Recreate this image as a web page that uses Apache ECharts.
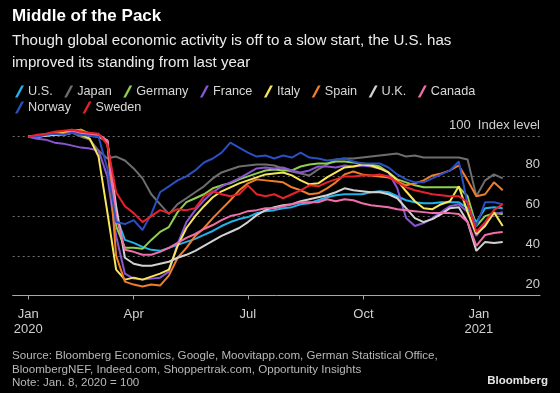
<!DOCTYPE html>
<html>
<head>
<meta charset="utf-8">
<script src="https://cdn.jsdelivr.net/npm/echarts@6/dist/echarts.min.js"></script>
<style>
html,body{margin:0;padding:0;background:#000;}
#chart{width:560px;height:393px;}
</style>
</head>
<body>
<div id="chart"></div>
<script>
// Days since Jan 1, 2020 (weekly samples starting Jan 8, 2020)
const days = [7,14,21,28,35,42,49,56,63,70,77,84,91,98,105,112,119,126,133,140,147,154,161,168,175,182,189,196,203,210,217,224,231,238,245,252,259,266,273,280,287,294,301,308,315,322,329,336,343,350,357,364,371,378,385];

const usValues = [100,100,100.5,101,101,102,102,101,100.5,98, 60,48,46.5,44.5,43,42.5,44,45.5,47,48.5, 50.5,52.5,55,57,58.5,59.5,61.5,62.5,63,64, 64.5,66,66.5,68,69.5,70.5,71,71,71,72, 72.5,72,70,68,67,66.5,66.5,67,67,67, 64,57,64,64.5,64];
const japanValues = [100,100.5,101,101.5,101,102,100,98.5,93,89, 90,88,84,79,71,66,61,66,69,72, 75,79,82,83.5,85,85.5,86,86,85.5,84, 82.5,81.5,80.5,83.5,86,88.5,89,89,89.5,90, 90.5,91,91.5,90,90.5,89.5,89.5,89.5,89.5,89.5, 88.5,70,78,81,79];
const germanyValues = [100,100,101,101.5,102,103,103.5,101.5,101,97, 55,44,44,43.5,48,52,54.5,62,67,69, 71,74,75.5,76.5,78.5,80,81.5,83,83.5,83, 83,85,86,86.5,86.5,87.5,87.5,87,86.5,86, 85,82,78.5,77,75.5,74.5,74.5,74.5,74.5,74.5, 70,55,60,61.5,61];
const franceValues = [100,99,98.5,97,96.5,95.5,94.5,94,93,80, 50,31,28.5,28,28.5,29,32,46,57,63, 68,72,75,77,79,81.5,84,84.5,84,84.5, 83,82,83,85,85,84.5,85.5,85,85.5,85, 84,82,74,59,55,56.5,59,62,65,66, 62,50,56,61,62];
const italyValues = [100,100.5,101,101.5,102,103.5,101,99,90,62, 33,28,29,28,29.5,31,33,45,54,60, 65,69.5,72.5,74.5,76.5,78,79.5,81,81.5,82, 80.5,78,76,76.5,79.5,82,84.5,85,86,85.5, 84,82,78,72.5,67.5,64,63.5,66,67.5,75, 62,51,55,62,55];
const spainValues = [100,100.5,101,102,101.5,102.5,103.5,101,101,98, 40,27,25.5,24.5,25.5,25,30,39,44,50, 54,59,63.5,68,73,76.5,78.5,78,77.5,77, 74.5,73,71,71.5,74,77,81,82.5,81,80.5, 80,79.5,77.5,75.5,76.5,78,80.5,81.5,83,85.5, 78,70,71,77,73];
const ukValues = [100,100,100.5,101,101,102,101.5,100.5,100,97.5, 65,39,36,35,35,36,37,39,40.5,42.5, 45,47.5,50,52,54,57,60.5,63,64.5,65.5, 66,67.5,68.5,69.5,70.5,72,74,73,72.5,72, 72,71,69,64,59,57,58.5,61,64,64.5, 57,42.5,47,46.5,47];
const canadaValues = [100,100.5,101,101.5,101,102.5,102,101,101,98, 60,43,42,40.5,40.5,42,44,46.5,49,51, 53.5,55.5,58,60,61,62.5,63,64,64,65, 66,67,67,67,68.5,67.5,68.5,68,66.5,65.5, 65,64.5,63.5,63,62.5,62,61.5,61.5,61.5,61, 57,45,50.5,51.5,52];
const norwayValues = [100,100,101,101.5,101,102,101,100.5,100,84, 57,56,58,53,61,72,75,78,80,83, 87,89,92,97,94.5,92,90,90.5,89,90.5, 89.5,92,89.5,89,88,88.5,89,87.5,86.5,86.5, 86.5,84.5,81,78.5,77,77,79,81,83,87.5, 66,55,67,67,66];
const swedenValues = [100,101,101.5,102.5,103,103.5,102.5,102,101.5,96, 72,65,61.5,57,60,63,61.5,63.5,63,64, 70,72.5,71,70,71,75.5,71,70,71,69, 71,73,75.5,75,77,78.5,80,80,80.5,80.5, 81,80,77,74.5,73,72,71,70.5,70,70, 67,52,57,63,66];

const countries = ['U.S.','Japan','Germany','France','Italy','Spain','U.K.','Canada','Norway','Sweden'];
const colors = ['#22b3ea','#6e6e6e','#8fd14f','#8a55d2','#f7e65a','#f07d28','#d2d2d2','#f06ea9','#2a4fc0','#e8222c'];
const seriesValues = [usValues,japanValues,germanyValues,franceValues,italyValues,spainValues,ukValues,canadaValues,norwayValues,swedenValues];

const xTickDays = [7,91,182,274,366];
const xTickLabels = ['Jan\n2020','Apr','Jul','Oct','Jan\n2021'];
const yTicks = [20,40,60,80,100];

const FONT = "'Liberation Sans',Arial,sans-serif";
const slash = 'path://M0,12 L2.6,12 L9,0 L6.4,0 Z';

const chart = echarts.init(document.getElementById('chart'), null, {renderer:'canvas'});
chart.setOption({
  backgroundColor:'#000',
  animation:false,
  textStyle:{fontFamily:FONT},
  grid:{left:12.7, right:20, top:136.7, bottom:97.5, outerBoundsMode:'none'},
  legend:[
    {data:countries.slice(0,8), left:10, top:80, itemWidth:9, itemHeight:12, itemGap:11.5, icon:slash,
     textStyle:{color:'#d8d8d8', fontSize:12.7, fontFamily:FONT, padding:[0,0,0,-1]}},
    {data:countries.slice(8), left:10, top:96, itemWidth:9, itemHeight:12, itemGap:11.5, icon:slash,
     textStyle:{color:'#d8d8d8', fontSize:12.7, fontFamily:FONT, padding:[0,0,0,-1]}}
  ],
  xAxis:{
    type:'value', min:-5.4, max:414.7,
    axisLine:{show:true, lineStyle:{color:'#a8a8a8', width:1}},
    axisTick:{show:true, customValues:xTickDays, length:4, lineStyle:{color:'#a8a8a8'}},
    axisLabel:{customValues:xTickDays, margin:12, color:'#d0d0d0', fontSize:13, lineHeight:14.5, fontFamily:FONT,
      formatter:function(v){const i=xTickDays.indexOf(v); return i>=0?xTickLabels[i]:'';}},
    splitLine:{show:false}
  },
  yAxis:{
    type:'value', position:'right', min:20, max:100, interval:20,
    axisLine:{show:false}, axisTick:{show:false},
    axisLabel:{inside:true, margin:0, color:'#d0d0d0', fontSize:13, fontFamily:FONT, verticalAlign:'bottom', padding:[0,0,5,0],
      formatter:function(v){return v===100?'100  Index level':String(v);}},
    splitLine:{show:true, lineStyle:{color:'#707070', type:[2,3], width:1}}
  },
  graphic:[
    {type:'text', left:12, top:8, style:{text:'Middle of the Pack', fill:'#ffffff', font:"bold 17px 'Liberation Sans',sans-serif"}},
    {type:'text', left:12, top:30.5, style:{text:'Though global economic activity is off to a slow start, the U.S. has\nimproved its standing from last year', fill:'#ececec', fontSize:15.1, lineHeight:21.5, fontFamily:FONT}},
    {type:'text', left:12, top:349, style:{text:'Source: Bloomberg Economics, Google, Moovitapp.com, German Statistical Office,\nBloombergNEF, Indeed.com, Shoppertrak.com, Opportunity Insights\nNote: Jan. 8, 2020 = 100', fill:'#b8b8b8', fontSize:11.6, lineHeight:13.7, fontFamily:FONT}},
    {type:'text', right:12, top:375, style:{text:'Bloomberg', fill:'#e6e6e6', font:"bold 11.5px 'Liberation Sans',sans-serif"}}
  ],
  series: countries.map(function(name,i){
    return {
      name:name, type:'line', showSymbol:false, symbol:'none', clip:false,
      color:colors[i], lineStyle:{width:2, color:colors[i]},
      data: days.map(function(d,j){return [d, seriesValues[i][j]];})
    };
  })
});
</script>
</body>
</html>
